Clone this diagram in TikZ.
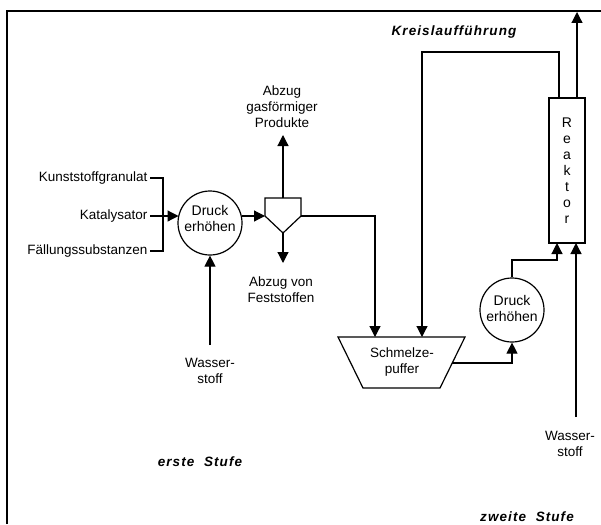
\documentclass[tikz,border=0pt]{standalone}
\usepackage{fontspec}
\setmainfont{Liberation Sans}
\newfontfamily\spacedfont[LetterSpace=8]{Liberation Sans}
\usetikzlibrary{arrows.meta}
\begin{document}
\begin{tikzpicture}[x=1pt,y=-1pt,line width=1.2pt,
  >={Triangle[length=11pt,width=11pt]},
  lbl/.style={inner sep=0pt,font=\fontsize{13.5}{16}\selectfont,align=center},
  stage/.style={inner sep=0pt,font=\spacedfont\bfseries\itshape\fontsize{13.5}{16}\selectfont},
  pump/.style={circle,draw,minimum size=64pt,inner sep=0pt}]
\useasboundingbox (0,0) rectangle (601,524);
% frame
\draw[line width=2.2pt] (7,524) -- (7,11) -- (601,11);

% input labels
\node[lbl,anchor=east] (kg) at (148,178) {Kunststoffgranulat};
\node[lbl,anchor=east] (kat) at (148,216) {Katalysator};
\node[lbl,anchor=east] (fs) at (148,251) {Fällungssubstanzen};
\coordinate (jn) at (163,216);

% first pump
\node[pump] (d1) at (210,223) {};
\node[lbl,font=\fontsize{14}{16}\selectfont] (d1t) at (210,218) {Druck\\erhöhen};

% separator
\node[minimum width=36pt,minimum height=35pt,inner sep=0pt] (sep) at (283,215.5) {};
\coordinate (sepTL) at (265,198);
\coordinate (sepTR) at (301,198);
\coordinate (sepL) at (265,216);
\coordinate (sepR) at (301,216);
\coordinate (sepB) at (283,233);
\coordinate (sepT) at (283,198);
\draw (sepTL) -- (sepTR) -- (sepR) -- (sepB) -- (sepL) -- cycle;

\node[lbl] (gas) at (282,107) {Abzug\\gasförmiger\\Produkte};
\coordinate (gasend) at (283,135);
\node[lbl] (fest) at (281,290) {Abzug von\\Feststoffen};
\coordinate (festend) at (283,263);

\node[lbl] (h1) at (210,371) {Wasser-\\stoff};
\coordinate (h1start) at (210,345);

% melt buffer
\node[inner sep=0pt] (sp) at (402,362) {};
\coordinate (spTL) at (338,337);
\coordinate (spTR) at (465,337);
\coordinate (spBR) at (440,388);
\coordinate (spBL) at (363,388);
\draw (spTL) -- (spTR) -- (spBR) -- (spBL) -- cycle;
\node[lbl] (spt) at (402,362) {Schmelze-\\puffer};
\coordinate (spin1) at (375,337);
\coordinate (spin2) at (422,337);
\coordinate (spout) at (452,363);

% second pump
\node[pump] (d2) at (512,310) {};
\node[lbl,font=\fontsize{14}{16}\selectfont] (d2t) at (512,308) {Druck\\erhöhen};

% reactor
\node[draw,minimum width=36pt,minimum height=145pt,inner sep=0pt] (re) at (567,170.5) {};
\node[lbl,font=\fontsize{14}{16}\selectfont] (ret) at (567,171) {R\\e\\a\\k\\t\\o\\r};
\coordinate (rein1) at (557,243);
\coordinate (rein2) at (576,243);
\coordinate (reout1) at (559,98);
\coordinate (reout2) at (577,98);
\coordinate (topend) at (577,12);

\node[lbl] (h2) at (570,444) {Wasser-\\stoff};
\coordinate (h2start) at (576,417);

% stage labels
\node[stage] (kr) at (454,32) {Kreislaufführung};
\node[stage] (st1) at (200,462) {erste\ \ Stufe};
\node[stage] (st2) at (527,517) {zweite\ \ Stufe};

% connectors
\draw (kg.east) ++(2,0) -| (jn);
\draw (fs.east) ++(2,0) -| (jn);
\draw[->] ([xshift=2pt]kat.east) -- (178.5,216);
\draw[->] (242,216) -- (sepL);
\draw[->] (sepT) -- (gasend);
\draw[->] (sepB) -- (festend);
\draw[->] (h1start) -- (d1.south);
\draw[->] (sepR) -| (spin1);
\draw[->] (reout1) |- (422,52) -- (spin2);
\draw[->] (spout) -| (d2.south);
\draw[->] (d2.north) |- (557,260) -- (rein1);
\draw[->] (h2start) -- (rein2);
\draw[->] (reout2) -- (topend);
\end{tikzpicture}
\end{document}
